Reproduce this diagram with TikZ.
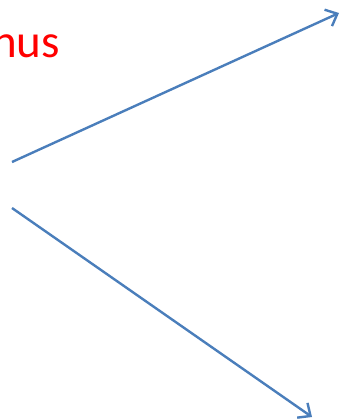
\documentclass[tikz,border=0pt]{standalone}
\usepackage{fontspec}
\setmainfont{Carlito}
\usetikzlibrary{arrows.meta}
\definecolor{arrowblue}{HTML}{4A7EBB}
\tikzset{
  arr/.style={draw=arrowblue, line width=2.4pt, -{Straight Barb[length=10pt,width=18pt,line width=2.4pt]}},
  lbl/.style={text=red, font=\fontsize{47}{52}\selectfont, inner sep=0pt, anchor=base west}
}
\begin{document}
\begin{tikzpicture}[x=1pt,y=-1pt]
\useasboundingbox (0,0) rectangle (341,420);
\clip (0,0) rectangle (341,420);
\node[lbl] (t) at (-8,58) {nus};
\coordinate (a1) at (12,162);
\coordinate (b1) at (339,13);
\coordinate (a2) at (12,208);
\coordinate (b2) at (312,417);
\draw[arr] (a1) -- (b1);
\draw[arr] (a2) -- (b2);
\end{tikzpicture}
\end{document}
